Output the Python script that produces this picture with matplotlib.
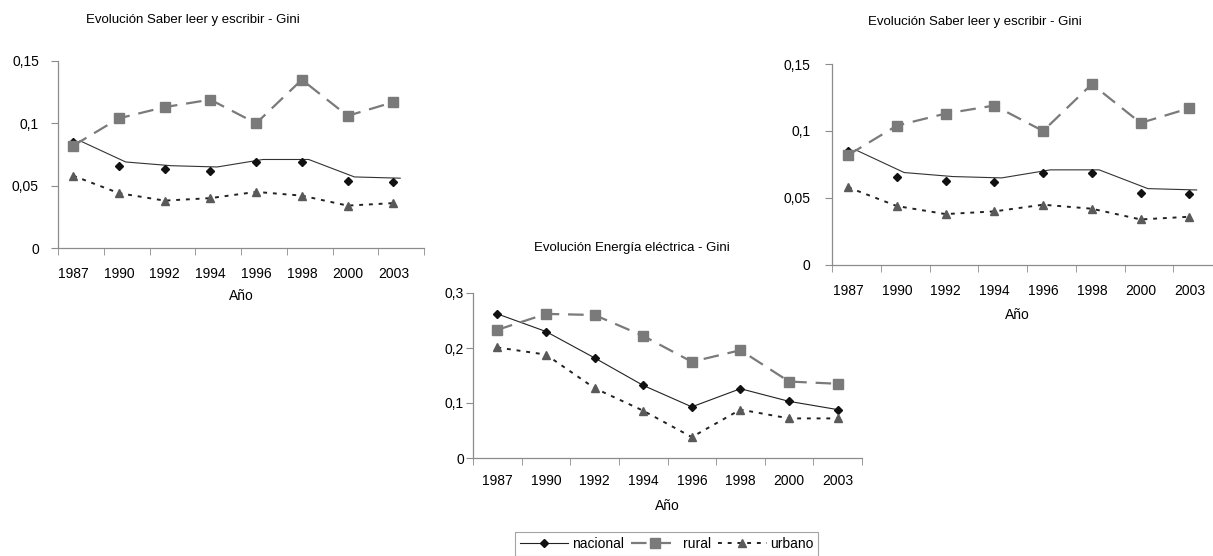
import numpy as np
import matplotlib
matplotlib.use('Agg')
import matplotlib.pyplot as plt
from matplotlib.ticker import FixedLocator, FuncFormatter

plt.rcParams['font.family'] = ['Liberation Sans', 'DejaVu Sans']

# Data
years = ['1987', '1990', '1992', '1994', '1996', '1998', '2000', '2003']

# Saber leer y escribir (both top charts show the same data)
saber_nacional = [0.085, 0.066, 0.063, 0.062, 0.069, 0.069, 0.054, 0.053]
saber_nacional_line = [0.086, 0.069, 0.066, 0.065, 0.071, 0.071, 0.057, 0.056]
saber_rural = [0.082, 0.104, 0.113, 0.119, 0.100, 0.135, 0.106, 0.117]
saber_urbano = [0.058, 0.044, 0.038, 0.040, 0.045, 0.042, 0.034, 0.036]

# Energia electrica
energia_nacional = [0.262, 0.230, 0.182, 0.132, 0.093, 0.126, 0.103, 0.088]
energia_rural = [0.233, 0.262, 0.260, 0.222, 0.175, 0.196, 0.139, 0.135]
energia_urbano = [0.201, 0.188, 0.127, 0.086, 0.038, 0.088, 0.072, 0.072]

W, H = 1213, 556
fig = plt.figure(figsize=(W / 100, H / 100), dpi=100)

axis_grey = '#8c8c8c'
sq_grey = '#7a7a7a'
tri_grey = '#5a5a5a'
tick_fs = 10
title_fs = 9.5


def px_axes(x0, x1, ytop, ybot):
    return fig.add_axes([x0 / W, 1 - ybot / H, (x1 - x0) / W, (ybot - ytop) / H])


def comma(v, pos):
    s = ('%.2f' % v).rstrip('0').rstrip('.')
    return s.replace('.', ',')


def style_axes(ax, xlim, ymax, ystep, ypad, xpad):
    ax.set_xlim(*xlim)
    ax.set_ylim(0, ymax)
    for s in ['top', 'right']:
        ax.spines[s].set_visible(False)
    for s in ['left', 'bottom']:
        ax.spines[s].set_color(axis_grey)
        ax.spines[s].set_linewidth(0.9)
    x = np.arange(len(years))
    ax.set_xticks(x)
    ax.set_xticklabels(years)
    ax.xaxis.set_minor_locator(FixedLocator(np.arange(xlim[0], xlim[1] + 0.01, 1.0)))
    ax.tick_params(axis='x', which='major', length=0, pad=xpad, labelsize=tick_fs)
    ax.tick_params(axis='x', which='minor', length=5, color=axis_grey, direction='out')
    ax.set_yticks(np.arange(0, ymax + 1e-9, ystep))
    ax.yaxis.set_major_formatter(FuncFormatter(comma))
    ax.tick_params(axis='y', length=5, color=axis_grey, pad=ypad, labelsize=tick_fs)
    ax.patch.set_alpha(0)


def draw_saber(ax):
    x = np.arange(len(years))
    ax.plot(x + 0.15, saber_nacional_line, color='#333333', lw=0.8, zorder=2)
    ax.plot(x, saber_nacional, ls='none', marker='D', ms=4.5, color='#111111', zorder=3)
    ax.plot(x, saber_rural, ls=(0, (7, 4)), lw=1.6, color=sq_grey, marker='s', ms=7,
            markerfacecolor=sq_grey, markeredgecolor=sq_grey, zorder=3)
    ax.plot(x, saber_urbano, ls=(0, (2, 3)), lw=1.4, color='#222222', marker='^', ms=6,
            markerfacecolor=tri_grey, markeredgecolor=tri_grey, zorder=3)


# Top-left chart
ax1 = px_axes(58, 424, 61, 248)
draw_saber(ax1)
style_axes(ax1, (-0.33, 7.67), 0.15, 0.05, 8.7, 13.5)
fig.text(193 / W, 1 - 20 / H, 'Evolución Saber leer y escribir - Gini', ha='center', va='center', fontsize=title_fs)
fig.text(241 / W, 1 - 296 / H, 'Año', ha='center', va='center', fontsize=tick_fs)

# Top-right chart
ax2 = px_axes(832, 1222, 64, 265)
draw_saber(ax2)
style_axes(ax2, (-0.33, 7.67), 0.15, 0.05, 10.7, 13.5)
fig.text(975 / W, 1 - 22 / H, 'Evolución Saber leer y escribir - Gini', ha='center', va='center', fontsize=title_fs)
fig.text(1017 / W, 1 - 315 / H, 'Año', ha='center', va='center', fontsize=tick_fs)

# Middle chart
ax3 = px_axes(473, 862, 293, 458)
x = np.arange(len(years))
l1, = ax3.plot(x, energia_nacional, color='#222222', lw=0.8, marker='D', ms=4.5,
               markerfacecolor='#111111', markeredgecolor='#111111', label='nacional', zorder=3)
l2, = ax3.plot(x, energia_rural, ls=(0, (7, 4)), lw=1.6, color=sq_grey, marker='s', ms=7,
               markerfacecolor=sq_grey, markeredgecolor=sq_grey, label='rural', zorder=3)
l3, = ax3.plot(x, energia_urbano, ls=(0, (2, 3)), lw=1.4, color='#222222', marker='^', ms=6,
               markerfacecolor=tri_grey, markeredgecolor=tri_grey, label='urbano', zorder=3)
style_axes(ax3, (-0.5, 7.5), 0.3, 0.1, 1.5, 11.5)
fig.text(632 / W, 1 - 248 / H, 'Evolución Energía eléctrica - Gini', ha='center', va='center', fontsize=title_fs)
fig.text(667 / W, 1 - 506 / H, 'Año', ha='center', va='center', fontsize=tick_fs)

leg = fig.legend([l1, l2, l3], ['nacional', 'rural', 'urbano'], ncol=3,
                 loc='upper left', bbox_to_anchor=(515 / W, 1 - 532 / H),
                 fontsize=10, frameon=True, fancybox=False, handlelength=3.5,
                 columnspacing=0.5, handletextpad=0.25, borderpad=0.35,
                 borderaxespad=0)
leg.get_frame().set_edgecolor(axis_grey)
leg.get_frame().set_linewidth(0.8)

fig.savefig('out.png', dpi=100)
